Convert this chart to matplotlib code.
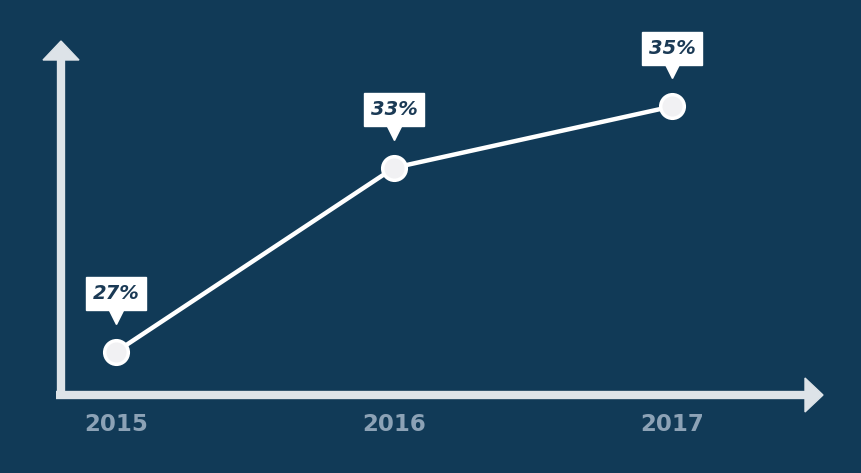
import matplotlib
matplotlib.use("Agg")
import matplotlib.pyplot as plt
from matplotlib.patches import Polygon
from matplotlib.transforms import ScaledTranslation

# ---- data ----
years = ["2015", "2016", "2017"]
values = [27, 33, 35]

BG = "#113a57"
AXIS = "#dde3e8"
YEAR_C = "#8ca2b6"
LABEL_C = "#1b3a55"

fig = plt.figure(figsize=(8.62, 4.73), dpi=100, facecolor=BG)
ax = fig.add_axes([0, 0, 1, 1])
ax.set_facecolor(BG)
ax.set_xlim(-0.417, 2.683)
ax.set_ylim(23.05, 38.47)
ax.axis("off")

xs = list(range(len(years)))

# arrows (axes fraction coords)
W, H = 862.0, 473.0
def fx(px): return px / W
def fy(py): return 1 - py / H

ax.plot([fx(61), fx(61)], [fy(399), fy(56)], color=AXIS, lw=6,
        transform=ax.transAxes, solid_capstyle="butt")
ax.plot([fx(56), fx(806)], [fy(395), fy(395)], color=AXIS, lw=6,
        transform=ax.transAxes, solid_capstyle="butt")
ax.add_patch(Polygon([[fx(43), fy(60)], [fx(79), fy(60)], [fx(61), fy(41)]],
                     closed=True, color=AXIS, transform=ax.transAxes))
ax.add_patch(Polygon([[fx(805), fy(378)], [fx(805), fy(412)], [fx(823), fy(395)]],
                     closed=True, color=AXIS, transform=ax.transAxes))

# line + markers
ax.plot(xs, values, color="white", lw=3.2, zorder=3)
ax.plot(xs, values, "o", ms=17, mfc="#f1f1f3", mec="white", mew=2.5, zorder=4)

# value labels with pointer
for x, v in zip(xs, values):
    ax.plot([x], [v], marker="v", ms=11, color="white", mec="white",
            transform=ax.transData + ScaledTranslation(0, 36 / 100, fig.dpi_scale_trans),
            zorder=5)
    ax.annotate(f"{v}%", (x, v), xytext=(0, 58), textcoords="offset pixels",
                ha="center", va="center", fontsize=14, fontweight="bold",
                fontstyle="italic", color=LABEL_C, family="DejaVu Sans",
                bbox=dict(boxstyle="square,pad=0.36", fc="white", ec="white"),
                zorder=6)

# year labels
for x, yr in zip(xs, years):
    ax.text(x, fy(424), yr, transform=ax.get_xaxis_transform(),
            ha="center", va="center", fontsize=16.5, fontweight="bold",
            color=YEAR_C, family="DejaVu Sans")

fig.savefig("out.png", dpi=100, facecolor=BG)
